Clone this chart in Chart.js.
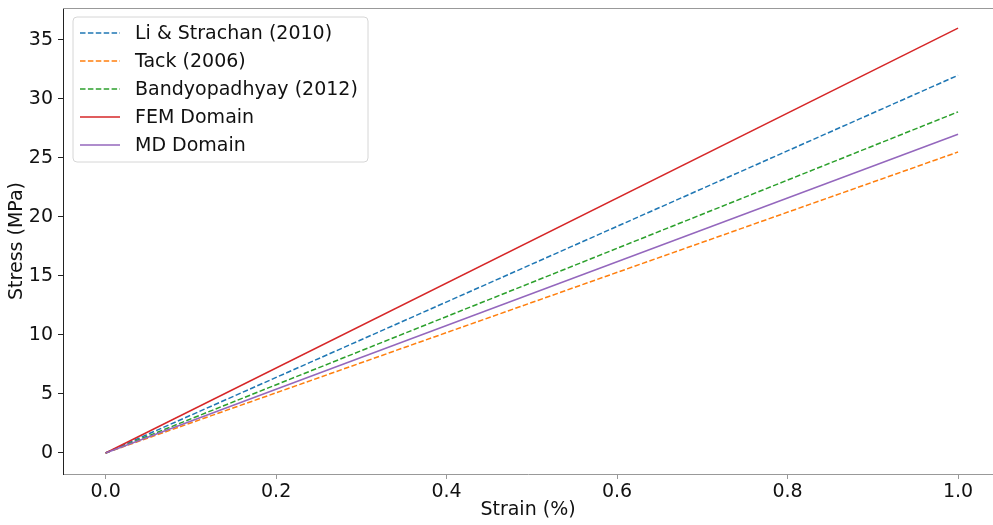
<!DOCTYPE html>
<html>
<head>
<meta charset="utf-8">
<script src="https://cdn.jsdelivr.net/npm/chart.js@4"></script>
<style>
html,body{margin:0;padding:0;background:#fff;}
canvas{display:block;}
</style>
</head>
<body>
<canvas id="c" width="993" height="525"></canvas>
<script>
// ---- data ----
const strain = [0.0, 1.0];
const liStrachan = [0, 32.0];
const tack = [0, 25.5];
const bandyopadhyay = [0, 28.9];
const femDomain = [0, 36.0];
const mdDomain = [0, 27.0];
const seriesLabels = ['Li & Strachan (2010)', 'Tack (2006)', 'Bandyopadhyay (2012)', 'FEM Domain', 'MD Domain'];
const xTicks = [0.0, 0.2, 0.4, 0.6, 0.8, 1.0];
const yTicks = [0, 5, 10, 15, 20, 25, 30, 35];

const FONT = "'DejaVu Sans', sans-serif";
const FS = 19;
const pts = arr => strain.map((x, i) => ({x: x, y: arr[i]}));
const DASH = [5.5, 2.4];

const datasets = [
  {label: seriesLabels[0], data: pts(liStrachan), borderColor: '#1f77b4', borderDash: DASH, order: 5},
  {label: seriesLabels[1], data: pts(tack), borderColor: '#ff7f0e', borderDash: DASH, order: 4},
  {label: seriesLabels[2], data: pts(bandyopadhyay), borderColor: '#2ca02c', borderDash: DASH, order: 3},
  {label: seriesLabels[3], data: pts(femDomain), borderColor: '#d62728', borderDash: [], order: 2},
  {label: seriesLabels[4], data: pts(mdDomain), borderColor: '#9467bd', borderDash: [], order: 1}
].map(d => Object.assign(d, {borderWidth: 1.5, pointRadius: 0, fill: false, tension: 0}));

const framePlugin = {
  id: 'frame',
  afterDraw(chart) {
    const ctx = chart.ctx, a = chart.chartArea;
    ctx.save();
    ctx.strokeStyle = '#999';
    ctx.lineWidth = 1;
    ctx.beginPath();
    ctx.moveTo(a.left, a.top + 0.5);
    ctx.lineTo(a.right, a.top + 0.5);
    ctx.stroke();
    ctx.restore();
  }
};

const legendPlugin = {
  id: 'mplLegend',
  afterDraw(chart) {
    const ctx = chart.ctx;
    const x0 = 73, y0 = 17, w = 295, h = 145, r = 4;
    ctx.save();
    ctx.beginPath();
    ctx.moveTo(x0 + r, y0);
    ctx.lineTo(x0 + w - r, y0);
    ctx.quadraticCurveTo(x0 + w, y0, x0 + w, y0 + r);
    ctx.lineTo(x0 + w, y0 + h - r);
    ctx.quadraticCurveTo(x0 + w, y0 + h, x0 + w - r, y0 + h);
    ctx.lineTo(x0 + r, y0 + h);
    ctx.quadraticCurveTo(x0, y0 + h, x0, y0 + h - r);
    ctx.lineTo(x0, y0 + r);
    ctx.quadraticCurveTo(x0, y0, x0 + r, y0);
    ctx.closePath();
    ctx.fillStyle = 'rgba(255,255,255,0.8)';
    ctx.fill();
    ctx.strokeStyle = '#d6d6d6';
    ctx.lineWidth = 1;
    ctx.stroke();
    ctx.font = FS + 'px ' + FONT;
    ctx.textBaseline = 'middle';
    ctx.textAlign = 'left';
    chart.data.datasets.forEach((ds, i) => {
      const y = 33 + i * 28;
      ctx.beginPath();
      ctx.setLineDash(ds.borderDash || []);
      ctx.strokeStyle = ds.borderColor;
      ctx.lineWidth = 1.5;
      ctx.moveTo(80, y);
      ctx.lineTo(120, y);
      ctx.stroke();
      ctx.setLineDash([]);
      ctx.fillStyle = '#111';
      ctx.fillText(ds.label, 135, y + 1);
    });
    ctx.restore();
  }
};

new Chart(document.getElementById('c'), {
  type: 'line',
  data: {datasets: datasets},
  options: {
    responsive: false,
    animation: false,
    devicePixelRatio: 1,
    layout: {padding: {left: 0, right: 0, top: 8, bottom: 0}},
    plugins: {legend: {display: false}, tooltip: {enabled: false}},
    scales: {
      x: {
        type: 'linear',
        min: -0.05,
        max: 1.041,
        afterBuildTicks: s => { s.ticks = xTicks.map(v => ({value: v})); },
        afterFit: s => { s.height = 51; s.paddingLeft = 0; s.paddingRight = 0; },
        ticks: {
          font: {family: FONT, size: FS},
          color: '#111',
          padding: 2,
          maxRotation: 0,
          callback: v => Number(v).toFixed(1)
        },
        grid: {display: true, drawOnChartArea: false, drawTicks: true, tickLength: 5, color: '#999'},
        border: {display: true, color: '#999', width: 1},
        title: {display: true, text: 'Strain (%)', font: {family: FONT, size: FS}, color: '#111', padding: {top: 3, bottom: 4}}
      },
      y: {
        type: 'linear',
        min: -1.78,
        max: 37.7,
        afterBuildTicks: s => { s.ticks = yTicks.map(v => ({value: v})); },
        afterFit: s => { s.width = 63; s.paddingTop = 0; s.paddingBottom = 0; },
        ticks: {
          font: {family: FONT, size: FS},
          color: '#111',
          padding: 5,
          callback: v => String(v)
        },
        grid: {display: true, drawOnChartArea: false, drawTicks: true, tickLength: 5, color: '#222'},
        border: {display: true, color: '#222', width: 1},
        title: {display: true, text: 'Stress (MPa)', font: {family: FONT, size: FS}, color: '#111', padding: {top: 6, bottom: 4}}
      }
    }
  },
  plugins: [framePlugin, legendPlugin]
});
</script>
</body>
</html>
